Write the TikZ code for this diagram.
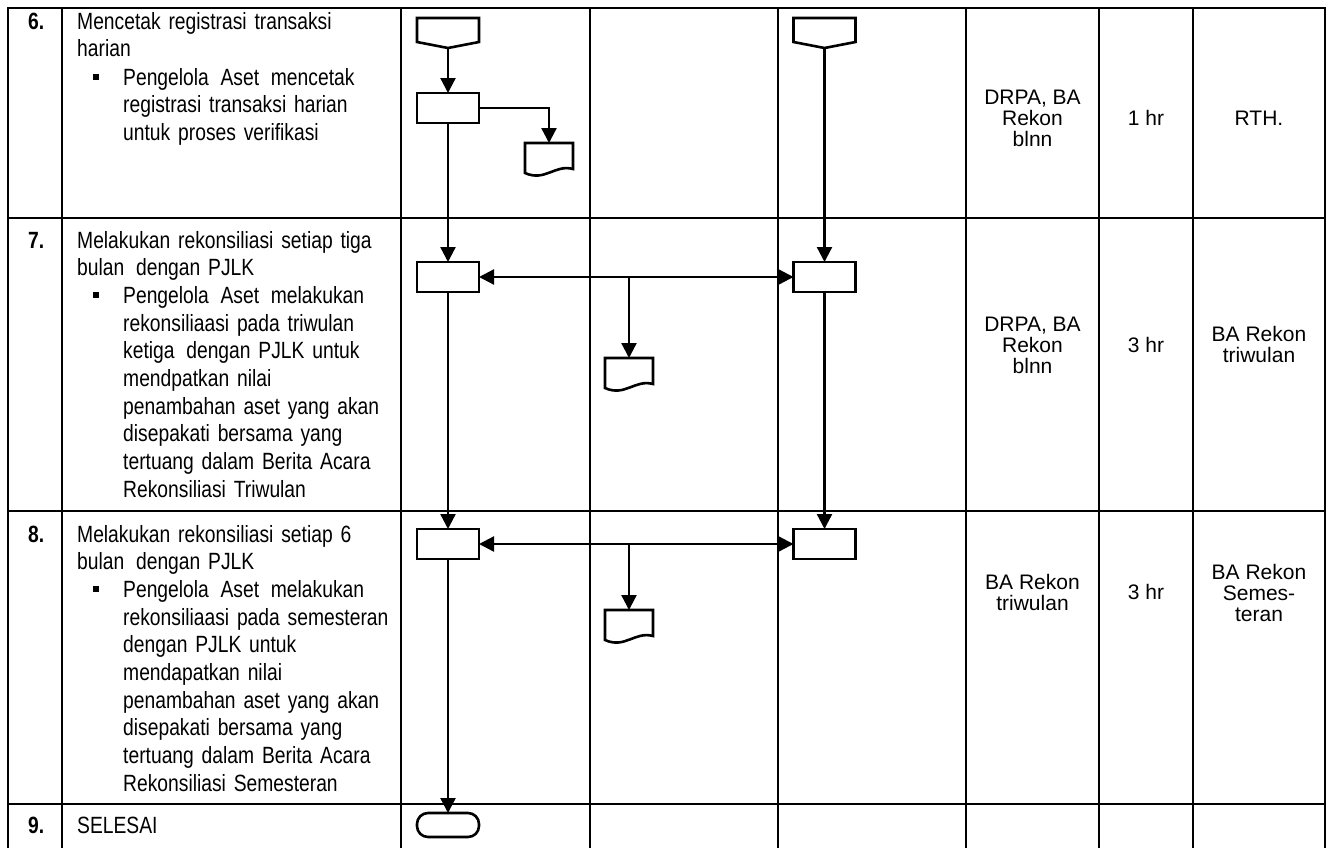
\documentclass[tikz,border=0pt]{standalone}
\usepackage{fontspec}
\setmainfont{Liberation Sans}
\newfontfamily\narrowsans{Liberation Sans}[FakeStretch=0.82]
\usetikzlibrary{arrows.meta,calc}
\begin{document}
\begin{tikzpicture}[x=1pt,y=-1pt,
  grid/.style={line width=2.6pt, line cap=rect},
  ghost/.style={minimum width=62pt, minimum height=30pt, inner sep=0pt, outer sep=0pt},
  box/.style={ghost, draw, line width=2.6pt},
  outl/.style={line width=2.6pt, line join=miter},
  tip/.tip={Triangle[width=15pt,length=15pt]},
  flow/.style={line width=2.3pt, -tip},
  both/.style={line width=2.3pt, tip-tip},
  lt/.style={font=\narrowsans\fontsize{23.5}{27.7}\selectfont, anchor=base west, inner sep=0pt, text width=320pt, align=left},
  num/.style={font=\narrowsans\bfseries\fontsize{23.5}{27.7}\selectfont, anchor=base west, inner sep=0pt},
  rt/.style={font=\fontsize{21}{21}\selectfont, align=center, inner sep=0pt},
  bul/.style={fill, minimum size=6pt, inner sep=0pt}
]
\useasboundingbox (0,0) rectangle (1330,847);
% table
\foreach \x in {8,62,401,590,778,966,1099,1193,1325} \draw[grid] (\x,8) -- (\x,852);
\foreach \y in {8,218,511,804} \draw[grid] (8,\y) -- (1325,\y);

% flow nodes
\node[ghost] (c1) at (448,33) {};
\draw[outl] (c1.north west) -- (c1.north east) -- ($(c1.south east)+(0,-6)$) -- (c1.south) -- ($(c1.south west)+(0,-6)$) -- cycle;
\node[ghost] (c2) at (824.5,33) {};
\draw[outl] (c2.north west) -- (c2.north east) -- ($(c2.south east)+(0,-6)$) -- (c2.south) -- ($(c2.south west)+(0,-6)$) -- cycle;

\node[box] (p6) at (448,108) {};
\node[ghost, minimum width=48pt] (d6) at (549,158) {};
\draw[outl] (d6.south west) -- (d6.north west) -- (d6.north east) -- ($(d6.south east)+(0,-4)$) .. controls ($(d6.south east)+(-18,-9)$) and ($(d6.south west)+(20,9)$) .. (d6.south west) -- cycle;

\node[box] (p7a) at (448,277) {};
\node[box] (p7b) at (824.5,277) {};
\node[ghost, minimum width=48pt] (d7) at (629,373) {};
\draw[outl] (d7.south west) -- (d7.north west) -- (d7.north east) -- ($(d7.south east)+(0,-4)$) .. controls ($(d7.south east)+(-18,-9)$) and ($(d7.south west)+(20,9)$) .. (d7.south west) -- cycle;

\node[box] (p8a) at (448,544) {};
\node[box] (p8b) at (824.5,544) {};
\node[ghost, minimum width=48pt] (d8) at (629,625) {};
\draw[outl] (d8.south west) -- (d8.north west) -- (d8.north east) -- ($(d8.south east)+(0,-4)$) .. controls ($(d8.south east)+(-18,-9)$) and ($(d8.south west)+(20,9)$) .. (d8.south west) -- cycle;

\node[box, minimum height=24pt, rounded corners=11pt] (t9) at (448,825) {};

% connectors
\draw[flow] (c1.south) -- (p6.north);
\draw[flow] (p6.east) -| (d6.north);
\draw[flow] (p6.south) -- (p7a.north);
\draw[flow] (c2.south) -- (p7b.north);
\draw[both] (p7a.east) -- (p7b.west);
\draw[flow] (p7a.east -| d7.north) -- (d7.north);
\draw[flow] (p7a.south) -- (p8a.north);
\draw[flow] (p7b.south) -- (p8b.north);
\draw[both] (p8a.east) -- (p8b.west);
\draw[flow] (p8a.east -| d8.north) -- (d8.north);
\draw[flow] (p8a.south) -- (t9.north);

% row 6 text
\node[num] (n6) at (28,29) {6.};
\node[lt] (h6) at (77,29) {Mencetak registrasi transaksi\\harian};
\node[bul] (b6) at (96,76.5) {};
\node[lt] (s6) at (123,85) {Pengelola\, Aset\, mencetak\\registrasi transaksi harian\\untuk proses verifikasi};
% row 7 text
\node[num] (n7) at (28,248) {7.};
\node[lt] (h7) at (77,248) {Melakukan rekonsiliasi setiap tiga\\bulan\, dengan PJLK};
\node[bul] (b7) at (96,295) {};
\node[lt] (s7) at (123,303.4) {Pengelola\, Aset\, melakukan\\rekonsiliaasi pada triwulan\\ketiga\, dengan PJLK untuk\\mendpatkan nilai\\penambahan aset yang akan\\disepakati bersama yang\\tertuang dalam Berita Acara\\Rekonsiliasi Triwulan};
% row 8 text
\node[num] (n8) at (28,542) {8.};
\node[lt] (h8) at (77,542) {Melakukan rekonsiliasi setiap 6\\bulan\, dengan PJLK};
\node[bul] (b8) at (96,589) {};
\node[lt] (s8) at (123,597.4) {Pengelola\, Aset\, melakukan\\rekonsiliaasi pada semesteran\\dengan PJLK untuk\\mendapatkan nilai\\penambahan aset yang akan\\disepakati bersama yang\\tertuang dalam Berita Acara\\Rekonsiliasi Semesteran};
% row 9 text
\node[num] (n9) at (28,833) {9.};
\node[lt] (h9) at (77,833) {SELESAI};

% right columns
\node[rt] (a6) at (1032.5,118) {DRPA, BA\\Rekon\\blnn};
\node[rt] (w6) at (1146,118) {1 hr};
\node[rt] (o6) at (1259,118) {RTH.};
\node[rt] (a7) at (1032.5,345) {DRPA, BA\\Rekon\\blnn};
\node[rt] (w7) at (1146,345) {3 hr};
\node[rt] (o7) at (1259,344) {BA Rekon\\triwulan};
\node[rt] (a8) at (1032.5,592) {BA Rekon\\triwulan};
\node[rt] (w8) at (1146,592) {3 hr};
\node[rt] (o8) at (1259,593) {BA Rekon\\Semes-\\teran};
\end{tikzpicture}
\end{document}
